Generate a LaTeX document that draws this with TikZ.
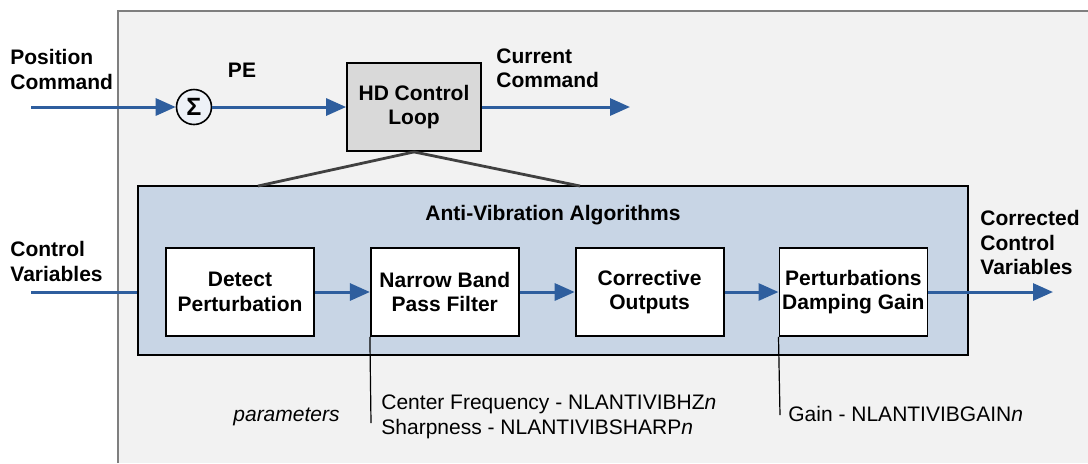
\documentclass[tikz,border=0pt]{standalone}
\usepackage{fontspec}
\setmainfont{Liberation Sans}
\usepackage{tikz}
\usetikzlibrary{arrows.meta,positioning,calc}
\definecolor{vibPanel}{HTML}{F2F2F2}
\definecolor{vibEdge}{HTML}{7F7F7F}
\definecolor{vibBlue}{HTML}{2E5E9E}
\definecolor{vibGroupFill}{HTML}{C8D5E5}
\definecolor{vibLoopFill}{HTML}{D9D9D9}
\definecolor{vibTie}{HTML}{404040}
\definecolor{vibSumFill}{HTML}{EDF1F7}
\newcommand{\vibfont}{\fontsize{10.5}{12.3}\selectfont}
\tikzset{
  vibBox/.style={
    draw=black,
    fill=white,
    line width=0.9pt,
    align=center,
    font=\vibfont\bfseries,
    minimum width=74pt,
    minimum height=44pt,
    inner sep=0pt
  },
  vibLoop/.style={
    vibBox,
    fill=vibLoopFill,
    minimum width=67pt
  },
  vibGroup/.style={
    draw=black,
    fill=vibGroupFill,
    line width=1pt,
    minimum width=415pt,
    minimum height=84.5pt,
    inner sep=0pt
  },
  vibSum/.style={
    circle,
    draw=black,
    fill=vibSumFill,
    line width=0.8pt,
    minimum size=17.5pt,
    inner sep=0pt,
    font=\fontsize{12.5}{13}\selectfont\bfseries
  },
  vibArrow/.style={
    -{Triangle[length=10pt,width=8.5pt]},
    line width=1.5pt,
    draw=vibBlue
  },
  vibLine/.style={
    line width=1.5pt,
    draw=vibBlue
  },
  vibTieLine/.style={
    line width=1.4pt,
    draw=vibTie
  },
  vibParamLine/.style={
    line width=0.6pt,
    draw=black
  },
  vibLabel/.style={
    align=left,
    inner sep=0pt,
    anchor=north west,
    font=\vibfont\bfseries
  },
  vibParam/.style={
    align=left,
    inner sep=0pt,
    font=\fontsize{10.5}{12.8}\selectfont
  }
}

\begin{document}
\begin{tikzpicture}[x=0.5pt, y=-0.5pt]
  \useasboundingbox (0,0) rectangle (1088,463);
  \fill[vibPanel] (118,11) rectangle (1088,463);
  \draw[vibEdge, line width=0.8pt] (118,463) -- (118,11) -- (1088,11);

  % position loop
  \node[vibSum] (sumPE) at (194,107) {Σ};
  \node[vibLoop] (hdLoop) at (414,107) {HD Control\\Loop};
  \coordinate (posIn) at (31,107);
  \coordinate (curOut) at (630,107);
  \draw[vibArrow] (posIn) -- (sumPE);
  \draw[vibArrow] (sumPE) -- (hdLoop);
  \draw[vibArrow] (hdLoop) -- (curOut);

  \node[vibLabel] (posLbl) at (10,49) {Position\\Command};
  \node[font=\vibfont\bfseries, anchor=base] (peLbl) at (242,77) {PE};
  \node[vibLabel] (curLbl) at (496,48) {Current\\Command};

  % anti-vibration block
  \node[vibGroup] (avGroup) at (553,270.5) {};
  \coordinate (tieL) at (258,186);
  \coordinate (tieR) at (580,186);
  \draw[vibTieLine] (hdLoop.south) -- (tieL);
  \draw[vibTieLine] (hdLoop.south) -- (tieR);
  \node[font=\vibfont\bfseries, anchor=base] (avTitle) at (553,220) {Anti-Vibration Algorithms};

  \node[vibBox] (detect) at (240,292) {Detect\\Perturbation};
  \node[vibBox, right=27.5pt of detect] (nbpf) {Narrow Band\\Pass Filter};
  \node[vibBox, right=27.5pt of nbpf] (corrOut) {Corrective\\Outputs};
  \node[vibBox, right=27pt of corrOut] (damping) {Perturbations\\Damping Gain};

  \foreach \a/\b in {detect/nbpf, nbpf/corrOut, corrOut/damping} {
    \draw[vibArrow] (\a) -- (\b);
  }

  \coordinate (cvIn) at (31,292);
  \coordinate (cvOut) at (1053,292);
  \draw[vibLine] (cvIn) -- (cvIn -| avGroup.west);
  \draw[vibArrow] (damping) -- (cvOut);
  \node[vibLabel] (cvLbl) at (10,241) {Control\\Variables};
  \node[vibLabel] (corrLbl) at (980,210) {Corrected\\Control\\Variables};

  % parameters
  \coordinate (nbpfTail) at (371,423);
  \coordinate (dampTail) at (780,415);
  \draw[vibParamLine] (nbpf.south west) -- (nbpfTail);
  \draw[vibParamLine] (damping.south west) -- (dampTail);
  \node[vibParam, anchor=north west] (nbpfPar) at (381,394)
    {Center Frequency - NLANTIVIBHZ\textit{n}\\Sharpness - NLANTIVIBSHARP\textit{n}};
  \node[vibParam, anchor=base west] (dampPar) at (788,421) {Gain - NLANTIVIBGAIN\textit{n}};
  \node[vibParam, anchor=base west, font=\vibfont\itshape] (parLbl) at (233,421) {parameters};
\end{tikzpicture}
\end{document}
